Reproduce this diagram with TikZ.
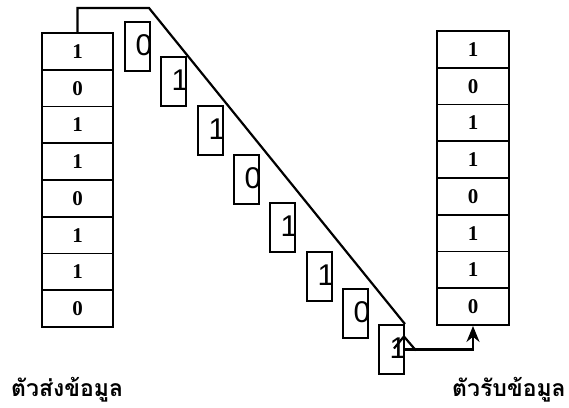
\documentclass[tikz,border=0pt]{standalone}
\usepackage{fontspec}
\setmainfont{Liberation Serif}
\newfontfamily\thaifont[Script=Thai]{Loma}
\newfontfamily\bitfont{Liberation Sans}
\usetikzlibrary{arrows.meta}

\tikzset{
  cell/.style={draw, line width=1.9pt, minimum width=71pt, minimum height=36.75pt,
               inner sep=0pt, font=\bfseries\fontsize{21}{21}\selectfont},
  packet/.style={draw, line width=1.9pt, minimum width=25pt, minimum height=49pt,
                 inner sep=0pt},
  bit/.style={inner sep=0pt, font=\bitfont\fontsize{30}{30}\selectfont},
  wire/.style={line width=2.2pt, line join=miter},
  caption/.style={inner sep=0pt, anchor=base west,
                  font=\thaifont\bfseries\fontsize{23}{23}\selectfont}
}

\begin{document}
\begin{tikzpicture}[x=1pt,y=-1pt]
\useasboundingbox (0,0) rectangle (569,407);

% sender register
\foreach \b [count=\i] in {1,0,1,1,0,1,1,0}
  \node[cell] (s\i) at (77.5, {33+18.375+36.75*(\i-1)}) {\b};

% receiver register
\foreach \b [count=\i] in {1,0,1,1,0,1,1,0}
  \node[cell, minimum width=72pt] (r\i) at (473, {31+18.375+36.75*(\i-1)}) {\b};

% bits in transit
\foreach \x/\y/\b [count=\i] in {125/22/0, 161/57/1, 198/106/1, 234/155/0,
                                 270/203/1, 307/252/1, 343/289/0, 379/325/1} {
  \node[packet] (pk\i) at (\x+12.5, \y+24.5) {};
  \node[bit] (d\i) at ([shift={(6.5,-1)}]pk\i.center) {\b};
}

% serial line
\coordinate (bend) at (149,8);
\draw[wire] (s1.north) |- (bend) -- (pk8.north east);
\coordinate (barbL) at ([shift={(-11,-1)}]pk8.east);
\coordinate (barbT) at ([shift={(-1,-13)}]pk8.east);
\coordinate (barbR) at ([shift={(11,1)}]pk8.east);
\draw[wire] (barbL) -- (barbT) -- (barbR);
\draw[wire, -{Stealth[length=16pt,width=13pt]}]
  (pk8.east) -- (pk8.east -| r8.south) -- (r8.south);

% captions
\node[caption] (tx) at (11,396) {ตัวส่งข้อมูล};
\node[caption] (rx) at (452,396) {ตัวรับข้อมูล};
\end{tikzpicture}
\end{document}
